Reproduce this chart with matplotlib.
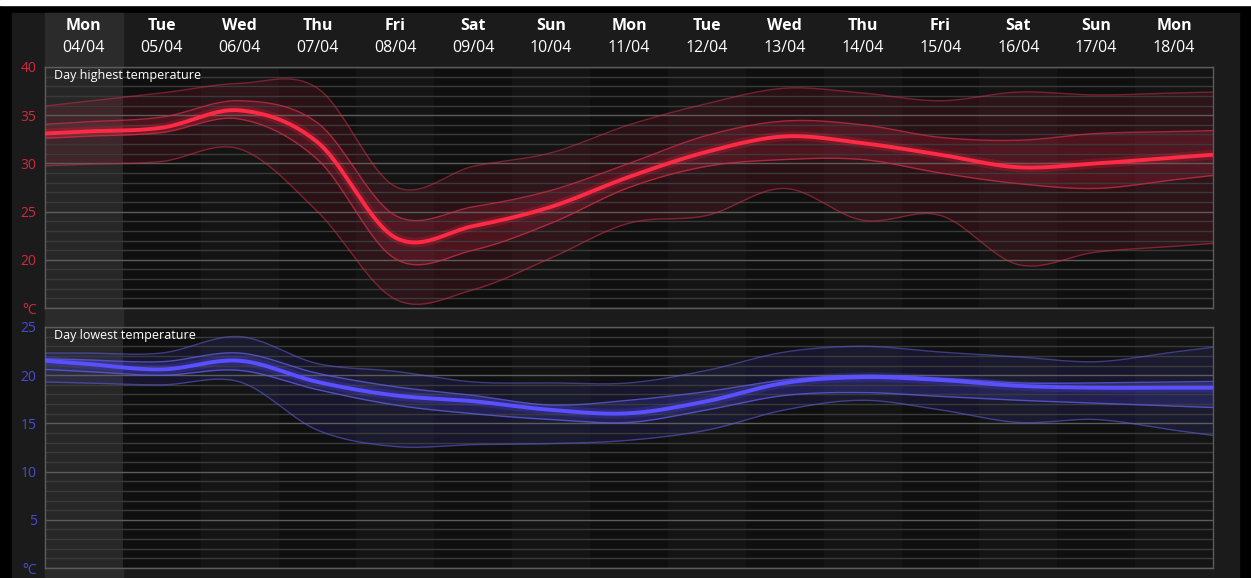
import numpy as np
import matplotlib
matplotlib.use('Agg')
import matplotlib.pyplot as plt
from matplotlib.patches import Rectangle
from matplotlib.transforms import blended_transform_factory

plt.rcParams['font.family'] = ['Open Sans', 'DejaVu Sans']

# dias
dias = ['Mon', 'Tue', 'Wed', 'Thu', 'Fri', 'Sat', 'Sun', 'Mon', 'Tue', 'Wed', 'Thu', 'Fri', 'Sat', 'Sun', 'Mon']
fechas = ['04/04', '05/04', '06/04', '07/04', '08/04', '09/04', '10/04', '11/04',
          '12/04', '13/04', '14/04', '15/04', '16/04', '17/04', '18/04']

# maxima del dia
max_media = [33.3, 33.7, 35.5, 32.2, 22.3, 23.5, 25.5, 28.6, 31.2, 32.8, 32.1, 30.9, 29.6, 30.0, 30.6]
max_alto = [36.4, 37.3, 38.3, 37.8, 27.6, 29.7, 31.1, 34.0, 36.2, 37.8, 37.3, 36.5, 37.4, 37.1, 37.3]
max_alto_int = [34.3, 34.8, 36.5, 34.2, 24.6, 25.5, 27.2, 30.0, 32.9, 34.4, 34.0, 32.7, 32.4, 33.1, 33.3]
max_bajo_int = [32.8, 33.2, 34.6, 30.4, 20.1, 21.0, 23.8, 27.5, 29.7, 30.4, 30.4, 29.0, 27.9, 27.4, 28.3]
max_bajo = [29.9, 30.2, 31.5, 25.0, 15.9, 16.9, 20.2, 23.8, 24.6, 27.4, 24.1, 24.6, 19.5, 20.8, 21.4]

# minima del dia
min_media = [21.2, 20.6, 21.5, 19.3, 17.9, 17.3, 16.4, 16.05, 17.3, 19.2, 19.8, 19.5, 18.9, 18.7, 18.7]
min_alto = [22.3, 22.3, 24.0, 21.2, 20.4, 19.3, 19.2, 19.2, 20.5, 22.4, 23.0, 22.4, 21.9, 21.4, 22.4]
min_alto_int = [21.6, 21.4, 22.3, 20.2, 18.8, 17.9, 16.9, 17.4, 18.3, 19.5, 20.0, 19.7, 19.2, 19.2, 19.3]
min_bajo_int = [20.4, 20.0, 20.5, 18.5, 16.9, 16.0, 15.4, 15.1, 16.4, 17.9, 18.2, 17.8, 17.4, 17.1, 16.8]
min_bajo = [19.2, 19.0, 19.3, 14.3, 12.6, 12.8, 12.9, 13.25, 14.3, 16.4, 17.4, 16.4, 15.1, 15.4, 14.3]

max_ticks = [15, 20, 25, 30, 35, 40]
max_labels = ['°C', '20', '25', '30', '35', '40']
min_ticks = [0, 5, 10, 15, 20, 25]
min_labels = ['°C', '5', '10', '15', '20', '25']


def suavizar(vals, n=24):
    # curva tipo catmull-rom por los puntos de cada dia
    y = np.asarray(vals, float)
    m = np.gradient(y)
    xs, ys = [np.array([-0.5])], [np.array([y[0] - 0.5 * m[0]])]
    t = np.linspace(0, 1, n, endpoint=False)
    h00 = 2 * t**3 - 3 * t**2 + 1
    h10 = t**3 - 2 * t**2 + t
    h01 = -2 * t**3 + 3 * t**2
    h11 = t**3 - t**2
    for i in range(len(y) - 1):
        xs.append(i + t)
        ys.append(h00 * y[i] + h10 * m[i] + h01 * y[i + 1] + h11 * m[i + 1])
    xs.append(np.array([len(y) - 1, len(y) - 0.5]))
    ys.append(np.array([y[-1], y[-1] + 0.5 * m[-1]]))
    return np.concatenate(xs), np.concatenate(ys)


W, H = 1251, 578
fig = plt.figure(figsize=(W / 100, H / 100), dpi=100, facecolor='black')

# fondo
fig.patches.append(Rectangle((0, 1 - 5 / H), 1, 5 / H, transform=fig.transFigure,
                             color='white', zorder=-10))
fig.patches.append(Rectangle((12 / W, 0), (1239 - 12) / W, (H - 13) / H, transform=fig.transFigure,
                             color='#1b1b1b', zorder=-9))

ax1 = fig.add_axes([45 / W, (H - 308) / H, 1168 / W, 241 / H])
ax2 = fig.add_axes([45 / W, (H - 568) / H, 1168 / W, 241 / H])

trans = blended_transform_factory(ax1.transData, fig.transFigure)
fig.patches.append(Rectangle((-0.5, 0), 1, (H - 13) / H, transform=trans,
                             color='#2b2b2b', zorder=-8))

for i in range(len(dias)):
    fig.text(i, 1 - 26.5 / H, dias[i], transform=trans, ha='center', va='center',
             color='white', fontsize=11.5, fontweight='bold')
    fig.text(i, 1 - 47.5 / H, fechas[i], transform=trans, ha='center', va='center',
             color='white', fontsize=11.5)


def panel(ax, medio, alto, alto_int, bajo_int, bajo, ticks, labels, titulo,
          c_main, c_band, c_fill, c_tick):
    ax.set_facecolor('#111111')
    for i in range(len(dias)):
        if i == 0:
            col = '#272727'
        elif i % 2 == 1:
            col = '#0f0f0f'
        else:
            col = '#141414'
        ax.axvspan(i - 0.5, i + 0.5, color=col, lw=0, zorder=0)

    x, ya = suavizar(alto)
    _, yb = suavizar(bajo)
    _, yai = suavizar(alto_int)
    _, ybi = suavizar(bajo_int)
    _, ym = suavizar(medio)

    ax.fill_between(x, yb, ya, color=c_fill, alpha=0.14, lw=0, zorder=1)
    ax.fill_between(x, ybi, yai, color=c_fill, alpha=0.22, lw=0, zorder=1)
    for yy in (ya, yb):
        ax.plot(x, yy, color=c_band, lw=1, alpha=0.55, zorder=3)
    for yy in (yai, ybi):
        ax.plot(x, yy, color=c_band, lw=1, alpha=0.75, zorder=3)
    ax.plot(x, ym, color=c_main, lw=7, alpha=0.18, zorder=4, solid_capstyle='butt')
    ax.plot(x, ym, color=c_main, lw=2.8, zorder=5, solid_capstyle='butt')

    ax.set_xlim(-0.5, len(dias) - 0.5)
    ax.set_ylim(ticks[0], ticks[-1])
    ax.set_xticks([])
    ax.set_yticks(ticks)
    ax.set_yticklabels(labels)
    ax.set_yticks(np.arange(ticks[0], ticks[-1] + 1), minor=True)
    ax.tick_params(axis='y', which='both', length=0, pad=6, labelcolor=c_tick, labelsize=10)
    ax.grid(True, axis='y', which='minor', color='#3a3a3a', lw=1)
    ax.grid(True, axis='y', which='major', color='#5c5c5c', lw=1)
    for s in ax.spines.values():
        s.set_color('#5c5c5c')
        s.set_linewidth(1)
    ax.text(9 / 1168, 1 - 9 / 241, titulo, transform=ax.transAxes, ha='left', va='center',
            color='white', fontsize=9, zorder=6)


panel(ax1, max_media, max_alto, max_alto_int, max_bajo_int, max_bajo, max_ticks, max_labels,
      'Day highest temperature', '#ff2a45', '#c83048', '#d02040', '#d3283c')
panel(ax2, min_media, min_alto, min_alto_int, min_bajo_int, min_bajo, min_ticks, min_labels,
      'Day lowest temperature', '#5a50ff', '#6060e0', '#4a46e0', '#4a4ad8')

plt.savefig('out.png', dpi=100, facecolor=fig.get_facecolor())
